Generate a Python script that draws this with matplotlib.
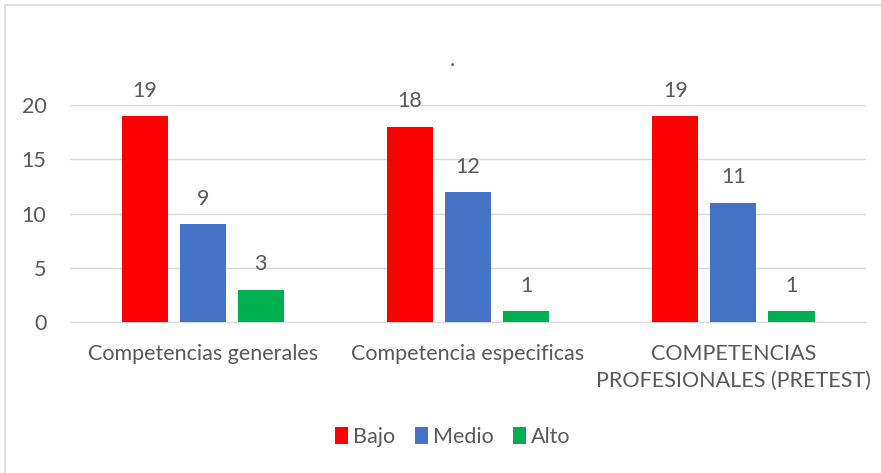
import numpy as np
import matplotlib
matplotlib.use("Agg")
import matplotlib.pyplot as plt
from matplotlib.patches import Rectangle

categories = ["Competencias generales", "Competencia especificas",
              "COMPETENCIAS\nPROFESIONALES (PRETEST)"]
series = ["Bajo", "Medio", "Alto"]
bajo = [19, 18, 19]
medio = [9, 12, 11]
alto = [3, 1, 1]
colors = ["#FF0000", "#4472C4", "#00B050"]

plt.rcParams["font.family"] = ["Lato", "DejaVu Sans"]
txt = "#595959"
fs = 15.5

fig = plt.figure(figsize=(8.81, 4.73), dpi=100)
ax = fig.add_axes([0.0795, 0.319, 0.9035, 0.459])

xs = np.arange(len(categories))
w = 0.174
step = 0.219
for i, (name, vals, c) in enumerate(zip(series, [bajo, medio, alto], colors)):
    pos = xs + (i - 1) * step
    ax.bar(pos, vals, width=w, color=c, label=name, zorder=3)
    for x, v in zip(pos, vals):
        ax.annotate(str(v), (x, v), xytext=(0, 11), textcoords="offset points",
                    ha="center", va="bottom", fontsize=fs, color=txt)

ax.set_xlim(-0.5, 2.5)
ax.set_ylim(0, 20)
ax.set_yticks([0, 5, 10, 15, 20])
ax.grid(axis="y", color="#D9D9D9", linewidth=1, zorder=0)
for s in ["top", "right", "left"]:
    ax.spines[s].set_visible(False)
ax.spines["bottom"].set_color("#D9D9D9")
ax.tick_params(axis="both", length=0, labelsize=fs, labelcolor=txt)
ax.tick_params(axis="y", pad=17)
ax.tick_params(axis="x", pad=16)
ax.set_xticks(xs)
ax.set_xticklabels(categories, linespacing=1.4)

fig.text(0.514, 0.873, ".", ha="center", va="center", fontsize=fs, color=txt)

leg = fig.legend(loc="center", bbox_to_anchor=(0.514, 0.076), ncol=3, frameon=False,
                 fontsize=fs, handlelength=0.6, handleheight=0.8, handletextpad=0.25,
                 columnspacing=0.9)
for t in leg.get_texts():
    t.set_color(txt)

fig.patches.append(Rectangle((0.006, -0.1), 1.2, 1.089, transform=fig.transFigure,
                             fill=False, edgecolor="#D9D9D9", linewidth=1.2))

fig.savefig("out.png", dpi=100)
